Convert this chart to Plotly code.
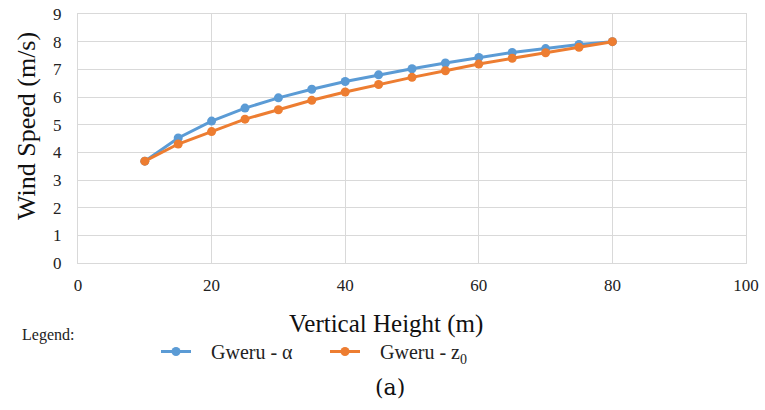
import plotly.graph_objects as go

heights = [10, 15, 20, 25, 30, 35, 40, 45, 50, 55, 60, 65, 70, 75, 80]
gweru_alpha = [3.68, 4.52, 5.13, 5.6, 5.97, 6.28, 6.56, 6.8, 7.02, 7.23, 7.43, 7.61, 7.75, 7.9, 8.0]
gweru_z0 = [3.68, 4.3, 4.75, 5.2, 5.54, 5.88, 6.18, 6.45, 6.71, 6.95, 7.19, 7.4, 7.6, 7.8, 8.0]
x_ticks = [0, 20, 40, 60, 80, 100]
y_ticks = list(range(0, 10))

serif = "Liberation Serif"

# body margin is removed in the page, so work directly in screenshot coordinates
FW, FH = 765, 410
L, R, T, B = 78, 746, 14, 263
W, H = R - L, B - T

def px(x):
    return (x - L) / W

def py(y):
    return (B - y) / H

NB = "\u00a0"

fig = go.Figure()
fig.add_trace(go.Scatter(x=heights, y=gweru_alpha, mode="lines+markers", name=NB * 3 + "Gweru - α",
                         line=dict(color="#5B9BD5", width=3), marker=dict(size=9, color="#5B9BD5")))
fig.add_trace(go.Scatter(x=heights, y=gweru_z0, mode="lines+markers", name=NB * 3 + "Gweru - z<sub>0</sub>",
                         line=dict(color="#ED7D31", width=3), marker=dict(size=9, color="#ED7D31")))

fig.update_layout(
    width=FW, height=FH,
    margin=dict(l=L, r=FW - R, t=T, b=FH - B, autoexpand=False),
    paper_bgcolor="white", plot_bgcolor="white",
    font=dict(family=serif, size=15, color="#404040"),
    showlegend=True,
    legend=dict(orientation="h", x=px(156), y=py(332), xanchor="left", yanchor="top",
                font=dict(family=serif, size=20, color="#222222"),
                entrywidth=124, entrywidthmode="pixels",
                tracegroupgap=0, bgcolor="rgba(0,0,0,0)"),
    xaxis=dict(range=[0, 100], tickvals=x_ticks, ticktext=[str(v) for v in x_ticks],
               showgrid=True, gridcolor="#d9d9d9", gridwidth=1, zeroline=False,
               showline=True, linecolor="#d9d9d9", linewidth=1, mirror=True,
               ticks="", ticklabelstandoff=7, automargin=False, ticklabeloverflow="allow",
               tickfont=dict(family=serif, size=17, color="#222222")),
    yaxis=dict(range=[0, 9], tickvals=y_ticks, ticktext=[str(v) for v in y_ticks],
               showgrid=True, gridcolor="#d9d9d9", gridwidth=1, zeroline=False,
               showline=True, linecolor="#d9d9d9", linewidth=1, mirror=True,
               ticks="", ticklabelstandoff=12, automargin=False, ticklabeloverflow="allow",
               tickfont=dict(family=serif, size=17, color="#222222")),
)

fig.add_annotation(text="Vertical Height (m)", xref="paper", yref="paper", x=px(386), y=py(324),
                   xanchor="center", yanchor="middle", showarrow=False,
                   font=dict(family=serif, size=25, color="#111111"))
fig.add_annotation(text="Wind Speed (m/s)", xref="paper", yref="paper", x=px(26), y=py(126),
                   xanchor="center", yanchor="middle", showarrow=False, textangle=-90,
                   font=dict(family=serif, size=26, color="#111111"))
fig.add_annotation(text="Legend:", xref="paper", yref="paper", x=px(20), y=py(335),
                   xanchor="left", yanchor="middle", showarrow=False,
                   font=dict(family=serif, size=16, color="#222222"))
fig.add_annotation(text="(a)", xref="paper", yref="paper", x=px(390), y=py(387),
                   xanchor="center", yanchor="middle", showarrow=False,
                   font=dict(family="DejaVu Serif", size=22, color="#111111"))

fig.write_html("out.html", config={"displayModeBar": False},
               post_script="document.body.style.margin='0';")
